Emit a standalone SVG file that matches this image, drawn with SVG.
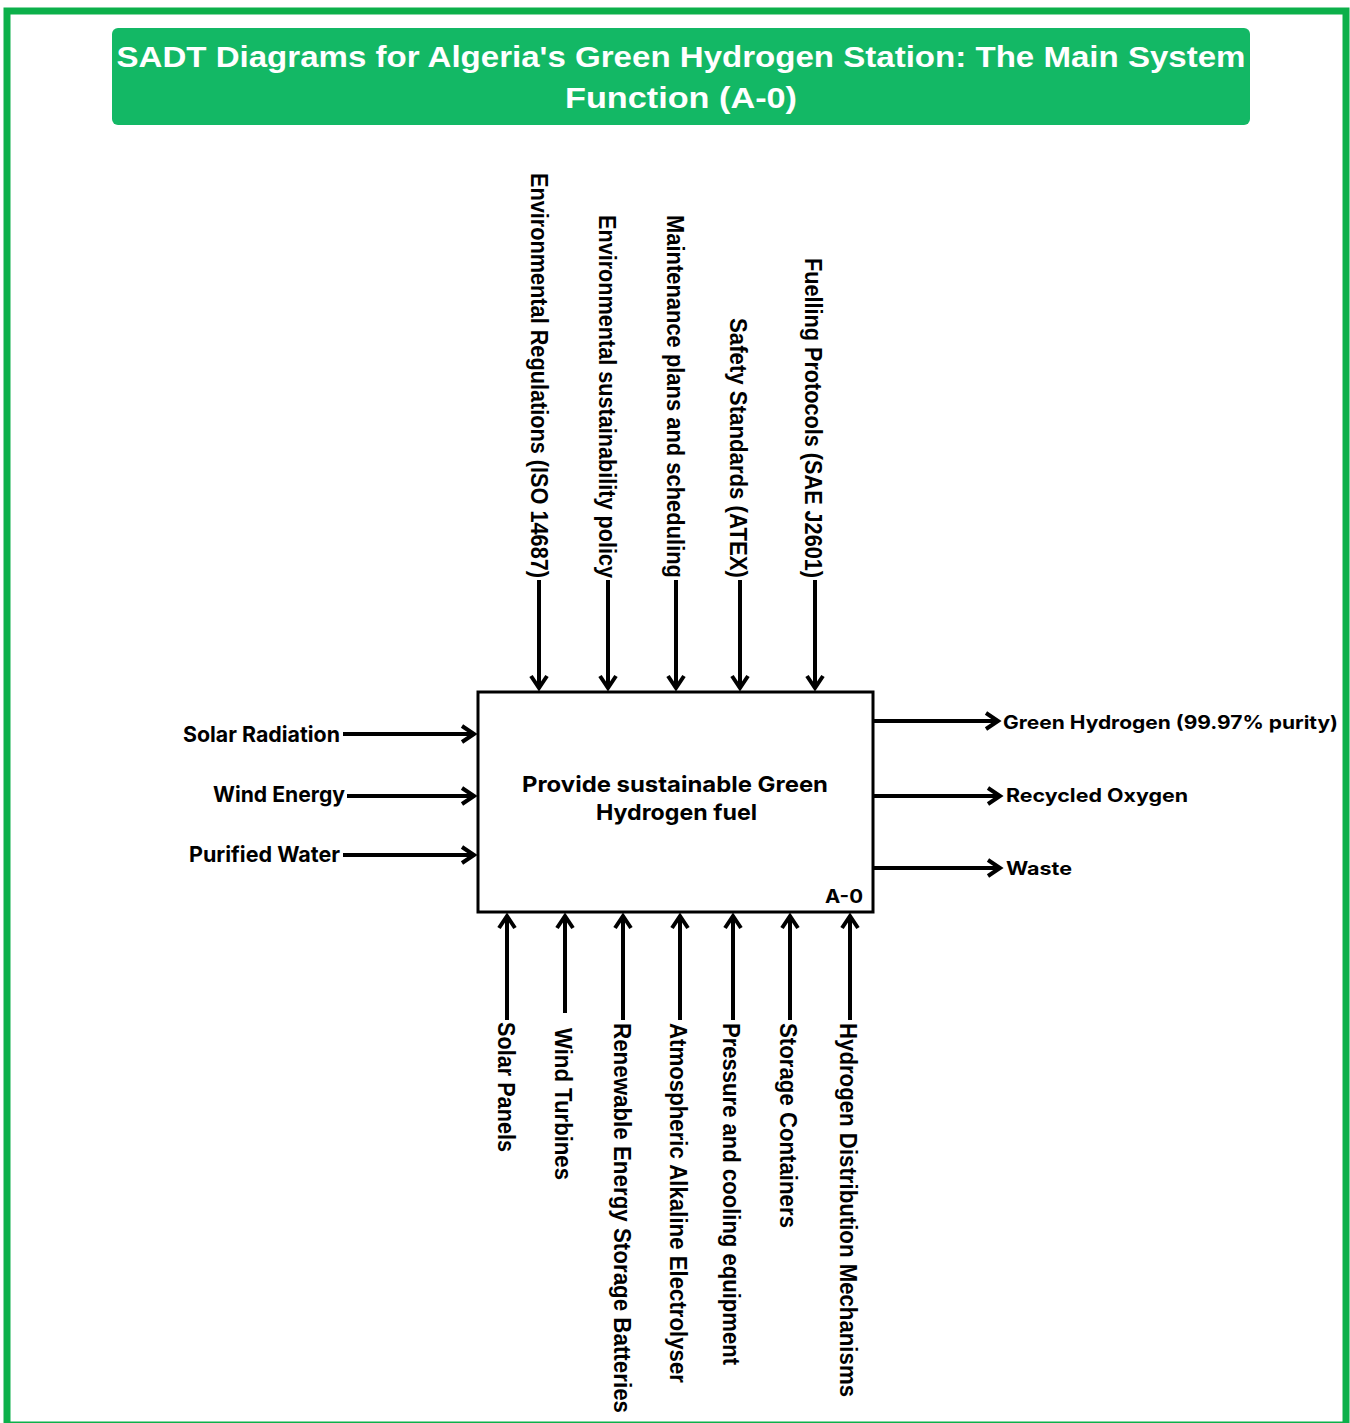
<svg xmlns="http://www.w3.org/2000/svg" width="1350" height="1423" viewBox="0 0 1350 1423">
<defs>
<style>
.frame{fill:none;stroke:#0cb04a;stroke-width:7}
.ttl{fill:#13b865}
.ttxt{font-family:"Liberation Sans",Arial,sans-serif;font-weight:bold;font-size:29px;fill:#fff;text-anchor:middle}
.box{fill:#fff;stroke:#000;stroke-width:3}
.btxt{font-family:Inter,"Liberation Sans",sans-serif;font-weight:700;font-size:22px;fill:#000;text-anchor:middle}
.hl{font-family:Inter,"Liberation Sans",sans-serif;font-weight:700;font-size:21.5px;fill:#000}
.hr{font-family:Inter,"Liberation Sans",sans-serif;font-weight:700;font-size:18.5px;fill:#000}
.vt{font-family:"Liberation Sans",Arial,sans-serif;font-weight:bold;font-size:21.5px;fill:#000}
.vb{font-family:"Liberation Sans",Arial,sans-serif;font-weight:bold;font-size:22px;fill:#000}
.con line{stroke:#000;stroke-width:4;marker-end:url(#ah)}
</style>
<marker id="ah" markerUnits="userSpaceOnUse" markerWidth="30" markerHeight="30" refX="0" refY="0" orient="auto" overflow="visible">
<path d="M-12,-8 L0,0 L-12,8" fill="none" stroke="#000" stroke-width="4"/>
</marker>
</defs>
<rect width="1350" height="1423" fill="#fff"/>
<rect class="frame" x="7" y="11" width="1339" height="1414"/>

<g id="title">
<rect class="ttl" x="112" y="28" width="1138" height="97" rx="6"/>
<text class="ttxt" x="681" y="67" textLength="1129" lengthAdjust="spacingAndGlyphs">SADT Diagrams for Algeria's Green Hydrogen Station: The Main System</text>
<text class="ttxt" x="681" y="108" textLength="232" lengthAdjust="spacingAndGlyphs">Function (A-0)</text>
</g>

<g id="A0">
<rect class="box" x="478" y="692" width="395" height="220"/>
<text class="btxt" x="675" y="792" textLength="306" lengthAdjust="spacingAndGlyphs">Provide sustainable Green</text>
<text class="btxt" x="676.5" y="820" textLength="161" lengthAdjust="spacingAndGlyphs">Hydrogen fuel</text>
<text class="hr" x="825" y="903" font-size="19" textLength="38" lengthAdjust="spacingAndGlyphs">A-0</text>
</g>

<g id="connectors" class="con">
<line x1="343" y1="734" x2="474" y2="734"/>
<line x1="347" y1="796" x2="474" y2="796"/>
<line x1="343" y1="855" x2="474" y2="855"/>
<line x1="874" y1="721" x2="998" y2="721"/>
<line x1="874" y1="796" x2="1000" y2="796"/>
<line x1="874" y1="868" x2="1000" y2="868"/>
<line x1="539" y1="580" x2="539" y2="688"/>
<line x1="608" y1="580" x2="608" y2="688"/>
<line x1="676" y1="580" x2="676" y2="688"/>
<line x1="740" y1="580" x2="740" y2="688"/>
<line x1="815" y1="580" x2="815" y2="688"/>
<line x1="507" y1="1020" x2="507" y2="916"/>
<line x1="565" y1="1013" x2="565" y2="916"/>
<line x1="623" y1="1020" x2="623" y2="916"/>
<line x1="680" y1="1020" x2="680" y2="916"/>
<line x1="733" y1="1020" x2="733" y2="916"/>
<line x1="790" y1="1020" x2="790" y2="916"/>
<line x1="850" y1="1020" x2="850" y2="916"/>
</g>

<g id="in-solar-radiation"><text class="hl" x="340" y="742" text-anchor="end" textLength="157" lengthAdjust="spacingAndGlyphs">Solar Radiation</text></g>
<g id="in-wind-energy"><text class="hl" x="345" y="802" text-anchor="end" textLength="132" lengthAdjust="spacingAndGlyphs">Wind Energy</text></g>
<g id="in-purified-water"><text class="hl" x="340" y="862" text-anchor="end" textLength="151" lengthAdjust="spacingAndGlyphs">Purified Water</text></g>

<g id="out-green-hydrogen"><text class="hr" x="1003" y="729" textLength="335" lengthAdjust="spacingAndGlyphs">Green Hydrogen (99.97% purity)</text></g>
<g id="out-recycled-oxygen"><text class="hr" x="1006" y="802" textLength="182" lengthAdjust="spacingAndGlyphs">Recycled Oxygen</text></g>
<g id="out-waste"><text class="hr" x="1006" y="875" textLength="66" lengthAdjust="spacingAndGlyphs">Waste</text></g>

<g id="ctrl-env-regulations"><text class="vt" transform="translate(531,173) rotate(90) scale(1,1.14)" textLength="405" lengthAdjust="spacingAndGlyphs">Environmental Regulations (ISO 14687)</text></g>
<g id="ctrl-env-policy"><text class="vt" transform="translate(599,215) rotate(90) scale(1,1.14)" textLength="363" lengthAdjust="spacingAndGlyphs">Environmental sustainability policy</text></g>
<g id="ctrl-maintenance"><text class="vt" transform="translate(667,215) rotate(90) scale(1,1.14)" textLength="363" lengthAdjust="spacingAndGlyphs">Maintenance plans and scheduling</text></g>
<g id="ctrl-safety"><text class="vt" transform="translate(730,318) rotate(90) scale(1,1.14)" textLength="260" lengthAdjust="spacingAndGlyphs">Safety Standards (ATEX)</text></g>
<g id="ctrl-fuelling"><text class="vt" transform="translate(805,258) rotate(90) scale(1,1.14)" textLength="320" lengthAdjust="spacingAndGlyphs">Fuelling Protocols (SAE J2601)</text></g>

<g id="mech-solar-panels"><text class="vb" transform="translate(498,1022) rotate(90) scale(1,1.05)" textLength="130" lengthAdjust="spacingAndGlyphs">Solar Panels</text></g>
<g id="mech-wind-turbines"><text class="vb" transform="translate(555,1028) rotate(90) scale(1,1.05)" textLength="152" lengthAdjust="spacingAndGlyphs">Wind Turbines</text></g>
<g id="mech-batteries"><text class="vb" transform="translate(614,1023) rotate(90) scale(1,1.05)" textLength="390" lengthAdjust="spacingAndGlyphs">Renewable Energy Storage Batteries</text></g>
<g id="mech-electrolyser"><text class="vb" transform="translate(670,1023) rotate(90) scale(1,1.05)" textLength="360" lengthAdjust="spacingAndGlyphs">Atmospheric Alkaline Electrolyser</text></g>
<g id="mech-pressure-cooling"><text class="vb" transform="translate(723,1023) rotate(90) scale(1,1.05)" textLength="342" lengthAdjust="spacingAndGlyphs">Pressure and cooling equipment</text></g>
<g id="mech-storage"><text class="vb" transform="translate(780,1023) rotate(90) scale(1,1.05)" textLength="205" lengthAdjust="spacingAndGlyphs">Storage Containers</text></g>
<g id="mech-distribution"><text class="vb" transform="translate(840,1023) rotate(90) scale(1,1.05)" textLength="374" lengthAdjust="spacingAndGlyphs">Hydrogen Distribution Mechanisms</text></g>
</svg>
